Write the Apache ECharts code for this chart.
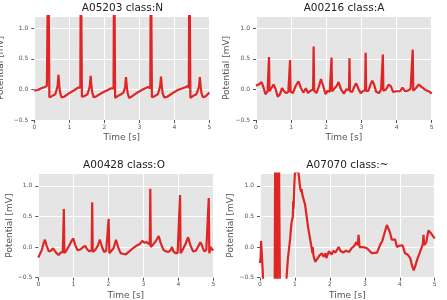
<!DOCTYPE html>
<html>
<head>
<meta charset="utf-8">
<script src="https://cdn.jsdelivr.net/npm/echarts@6/dist/echarts.min.js"></script>
<style>
html, body { margin: 0; padding: 0; background: #fff; }
#chart { width: 447px; height: 300px; }
</style>
</head>
<body>
<div id="chart"></div>
<script>
const titles = ['A05203 class:N', 'A00216 class:A', 'A00428 class:O', 'A07070 class:~']
const xTicks = [0, 1, 2, 3, 4, 5]
const yTicks = [-0.5, 0, 0.5, 1.0]

// [time s, potential mV]
const ecgN = [
  [0, -0.02], [0.1, -0.01], [0.2, 0.02], [0.3, 0.04], [0.36, 0.06], [0.385, 0.03], [0.40, 2.5], [0.43, -0.13],
  [0.5, -0.11], [0.6, -0.08], [0.64, -0.05], [0.665, 0.05], [0.69, 0.24], [0.715, 0.05], [0.74, -0.06],
  [0.78, -0.13], [0.85, -0.12], [1.0, -0.06], [1.15, -0.01], [1.25, 0.03], [1.3, 0.06], [1.315, 0.03],
  [1.33, 2.5], [1.36, -0.12], [1.43, -0.11], [1.52, -0.08], [1.56, -0.05], [1.585, 0.05], [1.61, 0.22],
  [1.635, 0.04], [1.66, -0.06], [1.70, -0.13], [1.78, -0.11], [1.95, -0.05], [2.1, -0.01], [2.2, 0.02],
  [2.25, 0.04], [2.265, 0.01], [2.28, 2.5], [2.31, -0.14], [2.38, -0.11], [2.48, -0.08], [2.55, -0.05],
  [2.595, 0.04], [2.62, 0.20], [2.645, 0.03], [2.67, -0.07], [2.71, -0.14], [2.8, -0.11], [2.95, -0.05],
  [3.1, 0.0], [3.25, 0.04], [3.3, 0.06], [3.315, 0.02], [3.33, 2.5], [3.36, -0.13], [3.44, -0.11],
  [3.53, -0.08], [3.57, -0.05], [3.595, 0.05], [3.62, 0.21], [3.645, 0.03], [3.67, -0.07], [3.71, -0.13],
  [3.8, -0.12], [3.95, -0.06], [4.1, -0.01], [4.3, 0.03], [4.4, 0.06], [4.415, 0.02], [4.43, 2.5],
  [4.46, -0.14], [4.53, -0.11], [4.63, -0.08], [4.68, -0.05], [4.705, 0.04], [4.73, 0.20], [4.755, 0.03],
  [4.78, -0.07], [4.82, -0.13], [4.9, -0.11], [5.0, -0.05]
]

const ecgA = [
  [0, 0.06], [0.05, 0.04], [0.1, 0.09], [0.16, 0.12], [0.22, 0.02], [0.27, -0.08], [0.33, -0.03],
  [0.355, -0.02], [0.37, 0.53], [0.385, -0.03], [0.43, -0.06], [0.5, 0.08], [0.56, 0.0], [0.62, -0.12],
  [0.68, -0.08], [0.74, 0.02], [0.8, -0.03], [0.86, -0.06], [0.92, -0.04], [0.955, -0.02], [0.97, 0.48],
  [0.985, -0.04], [1.05, -0.06], [1.13, 0.06], [1.21, 0.13], [1.28, 0.02], [1.35, -0.05], [1.42, 0.02],
  [1.48, -0.06], [1.55, -0.02], [1.625, 0.0], [1.64, 0.70], [1.655, -0.02], [1.72, -0.06], [1.79, 0.05],
  [1.85, 0.17], [1.92, 0.04], [1.98, -0.08], [2.04, -0.02], [2.1, -0.04], [2.135, -0.01], [2.15, 0.52],
  [2.165, -0.03], [2.22, -0.05], [2.3, 0.06], [2.35, 0.12], [2.42, 0.0], [2.5, -0.07], [2.57, 0.0],
  [2.62, -0.03], [2.645, -0.01], [2.66, 0.51], [2.675, -0.03], [2.74, -0.04], [2.8, 0.05], [2.85, 0.10],
  [2.92, 0.0], [2.98, -0.06], [3.04, -0.03], [3.09, -0.04], [3.105, -0.01], [3.12, 0.60], [3.135, -0.03],
  [3.2, -0.02], [3.27, 0.10], [3.31, 0.14], [3.36, 0.08], [3.42, -0.04], [3.5, -0.06], [3.56, 0.0],
  [3.595, -0.02], [3.61, 0.57], [3.625, -0.02], [3.7, 0.0], [3.78, 0.08], [3.84, 0.05], [3.9, -0.04],
  [4.0, -0.03], [4.1, -0.03], [4.17, 0.03], [4.24, -0.03], [4.32, -0.02], [4.4, 0.01], [4.445, 0.0],
  [4.46, 0.65], [4.475, -0.02], [4.55, 0.02], [4.63, 0.08], [4.68, 0.10], [4.74, 0.03], [4.8, 0.0],
  [4.86, -0.02], [4.92, -0.03], [5.0, -0.07]
]

const ecgO = [
  [0, -0.17], [0.05, -0.14], [0.1, -0.05], [0.15, 0.06], [0.19, 0.12], [0.24, 0.02], [0.3, -0.07],
  [0.36, -0.06], [0.42, -0.02], [0.46, -0.04], [0.52, -0.1], [0.58, -0.13], [0.64, -0.09], [0.7, -0.08],
  [0.715, -0.05], [0.73, 0.62], [0.745, -0.1], [0.8, -0.06], [0.88, 0.02], [0.95, 0.10], [1.0, 0.14],
  [1.05, 0.04], [1.12, -0.05], [1.2, -0.04], [1.28, 0.0], [1.34, 0.02], [1.4, -0.04], [1.46, -0.07],
  [1.525, -0.05], [1.54, 0.73], [1.555, -0.08], [1.62, -0.05], [1.7, 0.02], [1.76, 0.12], [1.82, 0.0],
  [1.88, -0.08], [1.94, -0.06], [1.995, -0.04], [2.01, 0.46], [2.03, -0.1], [2.08, -0.13], [2.15, -0.02],
  [2.22, 0.12], [2.28, 0.0], [2.35, -0.1], [2.42, -0.11], [2.5, -0.12], [2.6, -0.07], [2.7, -0.02],
  [2.8, 0.02], [2.9, 0.05], [2.97, 0.10], [3.03, 0.07], [3.1, 0.08], [3.15, 0.05], [3.185, 0.04],
  [3.20, 0.95], [3.215, 0.0], [3.28, 0.04], [3.36, 0.10], [3.44, 0.18], [3.5, 0.06], [3.58, -0.05],
  [3.65, -0.07], [3.72, -0.08], [3.78, -0.05], [3.82, 0.0], [3.86, -0.07], [3.92, -0.1], [3.98, -0.1],
  [4.035, -0.08], [4.05, 0.85], [4.065, -0.1], [4.12, -0.05], [4.2, 0.04], [4.28, 0.16], [4.34, 0.04],
  [4.42, -0.07], [4.5, -0.06], [4.56, 0.0], [4.63, 0.08], [4.68, 0.02], [4.74, -0.07], [4.8, -0.05],
  [4.855, -0.03], [4.87, 0.80], [4.885, -0.1], [4.93, 0.0], [4.97, -0.05], [5.0, -0.03]
]

const ecgNoise = [
  [0, -0.26], [0.02, -0.15], [0.03, 0.1], [0.05, 0.08], [0.07, -0.3], [0.1, -0.65], [0.2, -0.8],
  [0.3, -0.9], [0.42, -0.8], [0.44, 2.5], [0.49, -1.5], [0.53, 2.5], [0.58, -1.5], [0.66, -1.0],
  [0.76, -0.5], [0.8, -0.18], [0.86, 0.12], [0.9, 0.39], [0.94, 0.5], [0.95, 0.75], [0.96, 0.62],
  [0.98, 0.96], [1.0, 1.22], [1.1, 1.22], [1.15, 0.96], [1.18, 0.9], [1.19, 0.95], [1.21, 0.86],
  [1.29, 0.69], [1.38, 0.31], [1.48, -0.02], [1.5, -0.1], [1.51, 0.0], [1.53, -0.14], [1.58, -0.24],
  [1.63, -0.26], [1.7, -0.14], [1.77, -0.1], [1.82, -0.16], [1.87, -0.1], [1.9, -0.18], [1.97, -0.07],
  [2.05, -0.12], [2.1, -0.06], [2.16, -0.09], [2.25, 0.0], [2.3, -0.06], [2.38, -0.09], [2.46, -0.06],
  [2.55, -0.08], [2.62, -0.02], [2.7, 0.02], [2.76, 0.08], [2.8, 0.03], [2.82, 0.2], [2.85, 0.0],
  [2.95, 0.0], [3.06, -0.02], [3.2, -0.1], [3.35, -0.09], [3.44, 0.04], [3.5, 0.1], [3.54, 0.18],
  [3.58, 0.2], [3.63, 0.36], [3.67, 0.37], [3.72, 0.24], [3.77, 0.12], [3.87, 0.12], [3.92, 0.0],
  [3.98, 0.02], [4.08, 0.03], [4.15, -0.1], [4.22, -0.12], [4.3, -0.18], [4.36, -0.32], [4.4, -0.38],
  [4.45, -0.3], [4.5, -0.2], [4.58, -0.08], [4.63, 0.0], [4.66, 0.05], [4.68, 0.2], [4.7, 0.03],
  [4.76, 0.08], [4.82, 0.27], [4.86, 0.26], [4.9, 0.22], [4.95, 0.18], [5.0, 0.14]
]

const series = [ecgN, ecgA, ecgO, ecgNoise]

// layout of the 2x2 panels (px)
const panels = [
  { left: 34.3, top: 16, width: 175, height: 104, cx: 122.5, ty: 2.5, yGap: 29 },
  { left: 256, top: 16, width: 175.7, height: 104, cx: 344, ty: 2.5, yGap: 24 },
  { left: 38.3, top: 173.5, width: 175, height: 104.2, cx: 124, ty: 159.5, yGap: 24 },
  { left: 260, top: 173.5, width: 174.7, height: 104.2, cx: 347.5, ty: 159.5, yGap: 24 }
]

const labelColor = '#555'
const fontFamily = 'DejaVu Sans'

const chart = echarts.init(document.getElementById('chart'), null, { renderer: 'canvas' })

const fmtY = v => (v < 0 ? '\u2212' : '') + Math.abs(v).toFixed(1)

chart.setOption({
  animation: false,
  backgroundColor: '#fff',
  title: panels.map((p, i) => ({
    text: titles[i],
    left: p.cx,
    top: p.ty,
    padding: 0,
    textAlign: 'center',
    textStyle: { fontFamily, fontSize: 10.5, fontWeight: 'normal', color: '#222' }
  })),
  grid: panels.map(p => ({
    left: p.left,
    top: p.top,
    width: p.width,
    height: p.height,
    outerBoundsMode: 'none',
    show: true,
    backgroundColor: '#e5e5e5',
    borderWidth: 0
  })),
  xAxis: panels.map((p, i) => ({
    type: 'value',
    gridIndex: i,
    min: xTicks[0],
    max: xTicks[xTicks.length - 1],
    interval: 1,
    name: 'Time [s]',
    nameLocation: 'middle',
    nameGap: 13,
    nameTextStyle: { fontFamily, fontSize: 9, color: labelColor },
    axisLine: { show: false, onZero: false },
    axisTick: { show: true, length: 3, lineStyle: { color: labelColor } },
    axisLabel: { fontFamily, fontSize: 6, color: labelColor, margin: 4 },
    splitLine: { lineStyle: { color: '#fff', width: 1 } }
  })),
  yAxis: panels.map((p, i) => ({
    type: 'value',
    gridIndex: i,
    min: yTicks[0],
    max: 1.2,
    interval: 0.5,
    name: 'Potential [mV]',
    nameLocation: 'middle',
    nameGap: p.yGap,
    nameTextStyle: { fontFamily, fontSize: 9, color: labelColor },
    axisLine: { show: false, onZero: false },
    axisTick: { show: true, length: 3, lineStyle: { color: labelColor } },
    axisLabel: {
      fontFamily, fontSize: 6, color: labelColor, margin: 6,
      showMaxLabel: false,
      formatter: v => (yTicks.includes(+v.toFixed(1)) ? fmtY(v) : '')
    },
    splitLine: { lineStyle: { color: '#fff', width: 1 } }
  })),
  series: series.map((d, i) => ({
    type: 'line',
    xAxisIndex: i,
    yAxisIndex: i,
    data: d,
    showSymbol: false,
    clip: true,
    lineStyle: { color: '#e02525', width: 2.2 }
  }))
})
</script>
</body>
</html>
